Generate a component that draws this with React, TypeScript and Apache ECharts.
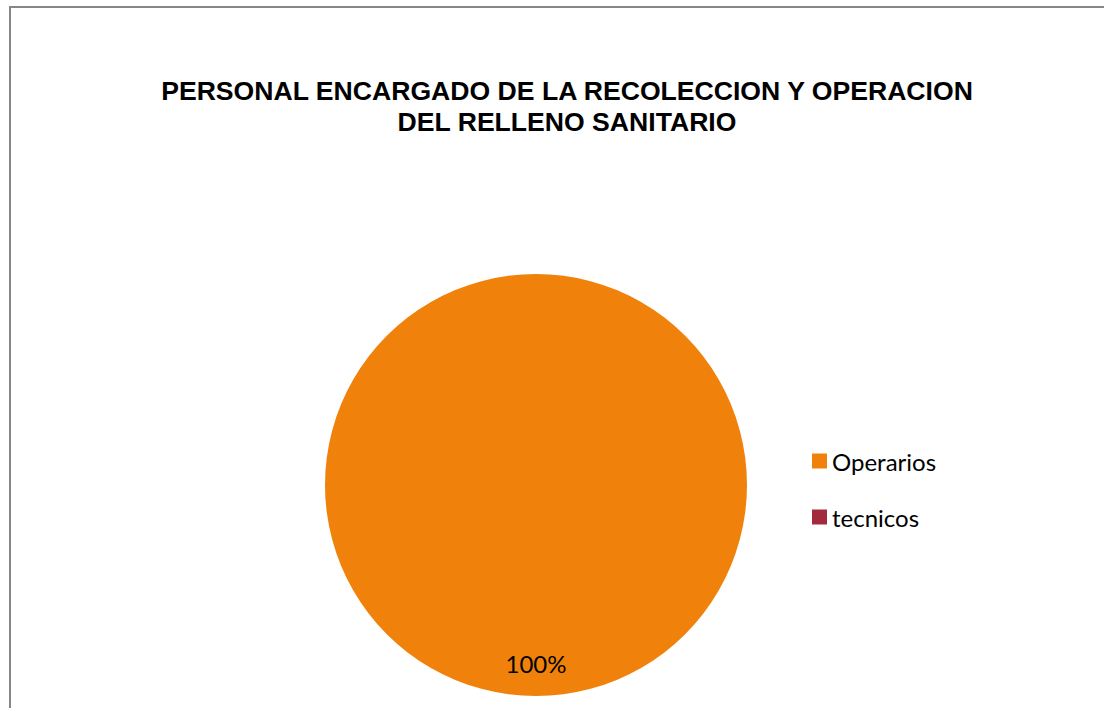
import React, { useEffect, useRef } from "react";
import * as echarts from "echarts";

const titleLines = ["PERSONAL ENCARGADO DE LA RECOLECCION Y OPERACION", "DEL RELLENO SANITARIO"];
const categories = ["Operarios", "tecnicos"];
const values = [100, 0];
const colors = ["#F0820B", "#A12B3C"];

export default function App() {
  const ref = useRef<HTMLDivElement>(null);
  useEffect(() => {
    if (!ref.current) return;
    const chart = echarts.init(ref.current, null, { renderer: "svg" });
    const total = values.reduce((a, b) => a + b, 0);
    const data = categories.map((c, i) => ({ name: c, value: values[i], itemStyle: { color: colors[i] } }));
    chart.setOption({
      animation: false,
      backgroundColor: "#ffffff",
      title: {
        text: titleLines.join("\n"),
        left: 562,
        textAlign: "center",
        top: 70,
        textStyle: {
          fontFamily: "Liberation Sans, Arial, sans-serif",
          fontWeight: "bold",
          fontSize: 26.6,
          lineHeight: 31,
          color: "#000000",
        },
      },
      legend: {
        orient: "vertical",
        left: 812,
        top: 449,
        padding: 0,
        itemWidth: 15,
        itemHeight: 15,
        itemGap: 32,
        icon: "rect",
        selectedMode: false,
        textStyle: { fontFamily: "Lato, Open Sans, sans-serif", fontSize: 24, color: "#000000" },
        data: categories,
      },
      graphic: [
        {
          type: "rect",
          shape: { x: 10, y: 7, width: 1200, height: 900 },
          style: { fill: "none", stroke: "#878787", lineWidth: 2 },
          silent: true,
        },
      ],
      series: [
        {
          type: "pie",
          center: [536, 485],
          radius: [0, 211],
          startAngle: 90,
          clockwise: true,
          label: { show: false },
          labelLine: { show: false },
          emphasis: { disabled: true },
          data,
        },
        {
          type: "pie",
          center: [536, 485],
          radius: [140, 210],
          startAngle: 90,
          clockwise: true,
          silent: true,
          itemStyle: { color: "transparent", borderWidth: 0 },
          label: {
            show: true,
            position: "inside",
            fontFamily: "Lato, Open Sans, sans-serif",
            fontSize: 24,
            color: "#000000",
            formatter: (p: any) => (p.value > 0 ? Math.round((p.value / total) * 100) + "%" : ""),
          },
          labelLine: { show: false },
          emphasis: { disabled: true },
          legendHoverLink: false,
          data: categories.map((c, i) => ({ name: c + " ", value: values[i] })),
        },
      ],
    });
    return () => chart.dispose();
  }, []);
  return <div ref={ref} style={{ position: "fixed", left: 0, top: 0, width: 1104, height: 708 }} />;
}
